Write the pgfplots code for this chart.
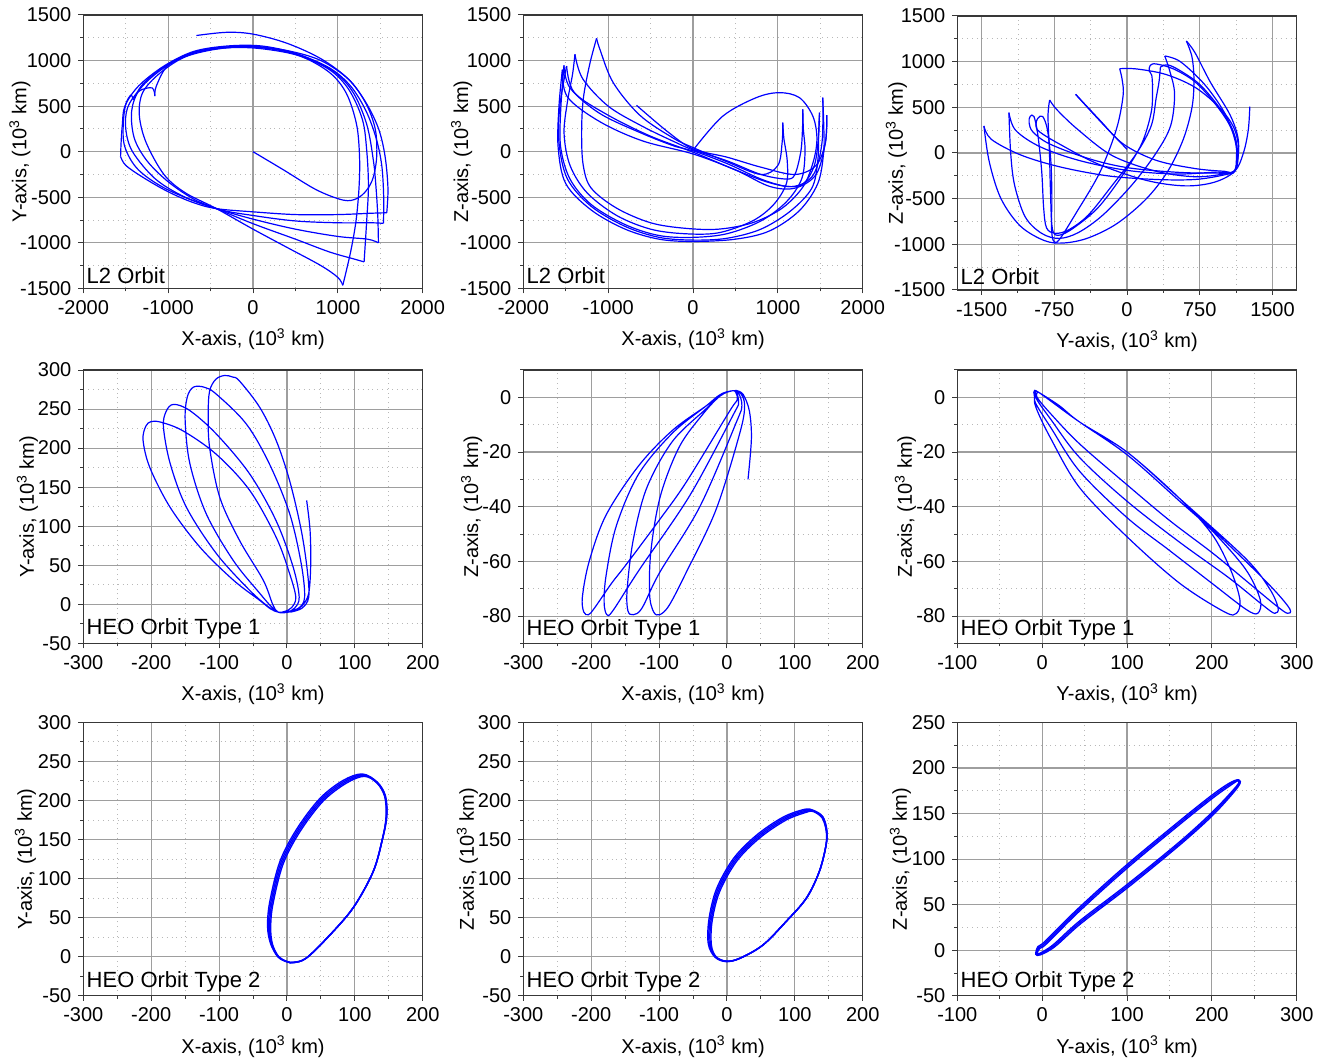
\documentclass[border=0pt]{standalone}
\usepackage{fontspec}
\setmainfont{Liberation Sans}
\usepackage{pgfplots}
\pgfplotsset{compat=1.18}

\tikzset{tag/.style={anchor=base west, inner sep=0pt, font=\fontsize{11}{13}\selectfont}}
\pgfplotsset{
  orb/.style={
    scale only axis, width=169.7pt, height=136.7pt, anchor=north west,
    axis line style={draw=black!78, line width=0.55pt},
    grid=both,
    major grid style={draw=black!38, line width=0.55pt},
    minor grid style={draw=black!28, line width=0.45pt, dotted},
    minor tick num=1,
    tick align=outside, tick pos=left,
    major tick length=2.5pt, minor tick length=1.5pt,
    tick style={draw=black!78, line width=0.5pt},
    tick label style={font=\fontsize{10}{12}\selectfont},
    every axis x label/.style={at={([yshift=-25.5pt]axis description cs:0.5,0)}, anchor=center, font=\fontsize{10}{12}\selectfont},
    /pgf/number format/assume math mode=true,
    /pgf/number format/1000 sep={},
    scaled ticks=false,
  },
  ylab/.style={every axis y label/.style={at={([xshift=-#1]axis description cs:0,0.5)}, rotate=90, anchor=center, font=\fontsize{10}{12}\selectfont}},
  trj/.style={blue, line width=0.6pt, smooth, tension=0.55, mark=none},
  band/.style={blue, line width=0.7pt, smooth cycle, tension=0.55, mark=none},
}

\begin{document}
\begin{tikzpicture}
\useasboundingbox (0,0) rectangle (664.5pt,-529.5pt);

% ---------- row 1: L2 orbit ----------
\begin{axis}[orb, ylab=31.7pt, at={(41.67pt,-7.5pt)},
  xmin=-2000, xmax=2000, ymin=-1500, ymax=1500,
  xtick distance=1000, ytick distance=500,
  xlabel={X-axis, (10\textsuperscript{3} km)}, ylabel={Y-axis, (10\textsuperscript{3} km)}]
\addplot[trj] coordinates {(0,0) (360,-200) (750,-420) (1066,-532) (1223,-514) (1341,-420) (1419,-275) (1458,-40) (1440,250) (1330,530) (1130,790) (800,1000) (400,1110) (0,1150) (-400,1130) (-800,1040) (-1100,860) (-1300,650) (-1340,400) (-1260,100) (-1050,-250) (-800,-450) (-430,-625) (0,-850) (400,-1050) (800,-1250) (1000,-1380) (1058,-1466)};
\addplot[trj] coordinates {(1058,-1466) (1150,-1100) (1215,-750) (1250,-380) (1255,-50) (1220,300) (1100,640) (900,870) (550,1050) (100,1130) (-300,1140) (-700,1080) (-1050,920) (-1330,690) (-1430,450) (-1400,150) (-1250,-100) (-1000,-330) (-700,-520) (-430,-625) (0,-790) (500,-960) (900,-1100) (1200,-1180) (1309,-1209)};
\addplot[trj] coordinates {(1309,-1209) (1340,-750) (1360,-380) (1341,0) (1290,350) (1130,680) (900,900) (500,1070) (100,1140) (-300,1150) (-700,1090) (-1000,950) (-1140,720) (-1157,610)};
\addplot[trj] coordinates {(-1157,610) (-1190,700) (-1350,660) (-1480,480) (-1500,250) (-1420,0) (-1150,-300) (-800,-500) (-430,-625) (0,-740) (500,-850) (1000,-930) (1350,-960) (1478,-1000)};
\addplot[trj] coordinates {(1478,-1000) (1470,-700) (1450,-400) (1419,-100) (1340,300) (1180,650) (950,880) (550,1060) (100,1150) (-300,1150) (-700,1090) (-1050,930) (-1300,740) (-1411,567)};
\addplot[trj] coordinates {(-1411,567) (-1440,620) (-1500,520) (-1530,300) (-1510,50) (-1350,-200) (-1000,-420) (-430,-625) (0,-700) (500,-760) (1000,-780) (1400,-780) (1537,-787)};
\addplot[trj] coordinates {(1537,-787) (1540,-500) (1517,-150) (1450,150) (1330,450) (1150,720) (900,920) (500,1080) (100,1160) (-300,1160) (-700,1100) (-1050,940) (-1350,720) (-1510,500) (-1540,300) (-1555,100) (-1561,-53)};
\addplot[trj] coordinates {(-1561,-53) (-1500,-150) (-1300,-280) (-1000,-440) (-700,-560) (-430,-625) (0,-660) (500,-690) (1000,-690) (1400,-675) (1576,-670)};
\addplot[trj] coordinates {(1576,-670) (1590,-400) (1556,-50) (1480,250) (1330,540) (1120,800) (800,1020) (400,1190) (0,1290) (-310,1310) (-667,1275)};
\node[tag] at ([xshift=1.5pt,yshift=2.5pt]rel axis cs:0,0) {L2 Orbit};
\end{axis}

\begin{axis}[orb, ylab=30.8pt, at={(261.67pt,-7.5pt)},
  xmin=-2000, xmax=2000, ymin=-1500, ymax=1500,
  xtick distance=1000, ytick distance=500,
  xlabel={X-axis, (10\textsuperscript{3} km)}, ylabel={Z-axis, (10\textsuperscript{3} km)}]
\addplot[trj] coordinates {(20,40) (353,392) (745,593) (1019,648) (1254,593) (1411,392) (1460,150) (1420,-100) (1300,-380) (1050,-620) (700,-780) (300,-850) (-100,-840) (-500,-780) (-900,-620) (-1200,-400) (-1294,-150) (-1313,200) (-1294,575) (-1220,950) (-1137,1244)};
\addplot[trj] coordinates {(-1137,1244) (-1098,1124) (-941,758) (-627,400) (-235,150) (0,45) (400,-110) (800,-250) (1000,-150) (1050,100) (1058,318)};
\addplot[trj] coordinates {(1058,318) (1070,150) (1110,-100) (1100,-350) (950,-580) (700,-760) (300,-890) (-100,-900) (-500,-850) (-900,-700) (-1250,-450) (-1450,-150) (-1520,200) (-1480,550) (-1420,850) (-1392,1069)};
\addplot[trj] coordinates {(-1392,1069) (-1300,800) (-1000,500) (-600,280) (-200,100) (0,20) (400,-100) (800,-250) (1100,-300) (1200,-250) (1270,0) (1290,250) (1294,465)};
\addplot[trj] coordinates {(1294,465) (1300,250) (1320,0) (1280,-300) (1100,-550) (800,-760) (400,-900) (0,-940) (-400,-920) (-800,-800) (-1200,-580) (-1450,-300) (-1560,50) (-1560,450) (-1521,948)};
\addplot[trj] coordinates {(-1521,948) (-1450,700) (-1100,420) (-600,200) (-200,55) (0,10) (400,-130) (800,-300) (1100,-380) (1300,-350) (1430,-150) (1478,150) (1490,428)};
\addplot[trj] coordinates {(1490,428) (1480,200) (1470,-100) (1400,-400) (1150,-650) (800,-850) (400,-950) (0,-970) (-400,-940) (-800,-820) (-1200,-600) (-1480,-300) (-1580,100) (-1570,500) (-1490,940)};
\addplot[trj] coordinates {(-1490,940) (-1400,650) (-1000,400) (-500,170) (0,-5) (500,-200) (900,-340) (1200,-380) (1420,-250) (1520,100) (1529,593)};
\addplot[trj] coordinates {(1529,593) (1540,300) (1540,0) (1470,-350) (1250,-650) (900,-870) (500,-960) (0,-985) (-400,-960) (-800,-850) (-1200,-640) (-1500,-350) (-1590,50) (-1580,500) (-1540,900)};
\addplot[trj] coordinates {(-1540,900) (-1480,600) (-1100,330) (-600,120) (0,-25) (500,-200) (900,-380) (1200,-400) (1450,-250) (1560,100) (1576,400)};
\addplot[trj] coordinates {(1576,400) (1560,100) (1450,-150) (1200,-250) (800,-170) (400,-60) (0,30) (-300,220) (-666,509)};
\node[tag] at ([xshift=1.5pt,yshift=2.5pt]rel axis cs:0,0) {L2 Orbit};
\end{axis}

\begin{axis}[orb, ylab=30.5pt, at={(478.67pt,-8pt)}, height=137pt,
  xmin=-1750, xmax=1750, ymin=-1500, ymax=1500,
  xtick distance=750, ytick distance=500,
  xlabel={Y-axis, (10\textsuperscript{3} km)}, ylabel={Z-axis, (10\textsuperscript{3} km)}]
\addplot[trj] coordinates {(0,40) (-270,340) (-530,642)};
\addplot[trj] coordinates {(-530,642) (-290,370) (-41,100) (300,-80) (700,-170) (1000,-200) (1111,-197) (1150,117) (1066,409) (860,774) (700,1100) (612,1226)};
\addplot[trj] coordinates {(612,1226) (670,1050) (690,800) (670,500) (580,150) (420,-200) (200,-500) (-100,-770) (-400,-930) (-650,-985) (-850,-960) (-1100,-800) (-1300,-500) (-1420,-100) (-1476,296)};
\addplot[trj] coordinates {(-1476,296) (-1400,150) (-1100,-20) (-700,-150) (-200,-250) (300,-290) (700,-290) (1000,-240) (1111,-190) (1128,-30) (1120,150) (1000,450) (800,750) (550,1000) (389,1062)};
\addplot[trj] coordinates {(389,1062) (440,900) (490,650) (450,300) (300,0) (50,-350) (-250,-680) (-500,-870) (-700,-935) (-880,-880) (-1050,-700) (-1160,-350) (-1200,0) (-1218,442)};
\addplot[trj] coordinates {(-1218,442) (-1150,250) (-900,70) (-500,-80) (0,-190) (500,-230) (900,-210) (1111,-197) (1140,0) (1090,250) (950,500) (750,750) (550,900) (420,965) (344,940)};
\addplot[trj] coordinates {(344,940) (330,780) (300,600) (250,300) (100,0) (-150,-350) (-400,-680) (-600,-840) (-740,-880) (-830,-820) (-860,-600) (-880,-200) (-920,200) (-960,400) (-1000,400) (-1010,330) (-970,230) (-800,100) (-400,-60) (0,-160) (500,-210) (900,-220) (1111,-197) (1128,50) (1060,300) (900,550) (700,780) (480,920) (300,975) (240,960) (228,900) (255,850) (262,700) (250,450) (150,100) (-50,-250) (-300,-600) (-550,-820) (-700,-900) (-770,-830) (-790,-400) (-800,0) (-815,400) (-798,580)};
\addplot[trj] coordinates {(-798,580) (-720,470) (-500,250) (-150,-30) (300,-200) (700,-260) (1000,-230) (1111,-197) (1150,50) (1100,280) (950,500) (700,720) (400,860) (100,920) (-76,923)};
\addplot[trj] coordinates {(-76,923) (-50,800) (-41,624) (-110,259) (-282,-215) (-523,-653) (-700,-950) (-760,-960) (-780,-800) (-775,-500) (-785,-100) (-820,250) (-870,400) (-920,380) (-940,300) (-900,230) (-700,100) (-300,-120) (200,-300) (600,-360) (900,-320) (1111,-200) (1200,0) (1250,250) (1266,507)};
\node[tag] at ([xshift=1.5pt,yshift=2.5pt]rel axis cs:0,0) {L2 Orbit};
\end{axis}

% ---------- row 2: HEO orbit type 1 ----------
\begin{axis}[orb, ylab=28pt, at={(41.67pt,-185pt)},
  xmin=-300, xmax=200, ymin=-50, ymax=300,
  xtick distance=100, ytick distance=50,
  xlabel={X-axis, (10\textsuperscript{3} km)}, ylabel={Y-axis, (10\textsuperscript{3} km)}]
\addplot[trj] coordinates {(29,133) (34,95) (35,52) (32,14) (22,-2) (8,-8) (-5,-10) (-13,-10) (-24,-6) (-40,5) (-79,31) (-128,73) (-172,124) (-202,175) (-212,210) (-208,228) (-200,234) (-185,233) (-153,222) (-104,192) (-55,146) (-16,86) (4,39) (13,9) (7,-4) (-3,-9) (-13,-10) (-26,-4) (-55,18) (-104,65) (-148,124) (-172,180) (-182,227) (-178,247) (-167,256) (-143,248) (-104,218) (-55,167) (-16,107) (9,48) (18,9) (11,-5) (0,-10) (-13,-10) (-23,-3) (-40,14) (-79,56) (-119,116) (-143,180) (-150,235) (-147,265) (-138,278) (-122,278) (-104,269) (-60,231) (-26,180) (4,116) (21,52) (26,9) (17,-5) (2,-10) (-13,-10) (-21,0) (-35,31) (-70,82) (-99,137) (-114,201) (-116,244) (-114,273) (-105,288) (-92,293) (-80,291) (-70,286) (-40,252) (-16,210) (4,158) (21,95) (30,43) (32,9) (22,-5) (5,-10)};
\node[tag] at ([xshift=1.5pt,yshift=4.2pt]rel axis cs:0,0) {HEO Orbit Type 1};
\end{axis}

\begin{axis}[orb, ylab=25.8pt, at={(261.67pt,-185pt)},
  xmin=-300, xmax=200, ymin=-90, ymax=10,
  xtick distance=100, ytick distance=20,
  xlabel={X-axis, (10\textsuperscript{3} km)}, ylabel={Z-axis, (10\textsuperscript{3} km)}]
\addplot[trj] coordinates {(31,-30) (36,-15) (33,-5) (24,1) (14,2.5) (8,2.4) (-10,1) (-30,-3) (-80,-12) (-130,-25) (-178,-43) (-203,-60) (-213,-73) (-211,-78.5) (-204,-79.5) (-195,-77) (-170,-68) (-148,-61) (-100,-45) (-60,-31) (4,-5) (15,-1) (13,1.8) (8,2.4) (-10,1) (-30,-3) (-80,-13) (-130,-28) (-163,-47) (-178,-65) (-181,-75) (-177,-79.5) (-168,-78) (-129,-63) (-55,-36) (9,-6.5) (17,-2) (14,1.8) (8,2.4) (-10,1) (-30,-4) (-80,-16) (-118,-33) (-138,-52) (-147,-70) (-146,-78) (-138,-79.5) (-125,-77) (-99,-64) (-40,-40) (14,-9) (22,-3) (17,1.5) (8,2.4) (-10,0.5) (-35,-6) (-70,-18) (-98,-36) (-112,-56) (-114,-72) (-108,-78.5) (-99,-79.5) (-85,-76) (-60,-64) (-16,-41) (19,-13) (26,-3) (20,1.5) (10,2.4)};
\node[tag] at ([xshift=1.5pt,yshift=4.2pt]rel axis cs:0,0) {HEO Orbit Type 1};
\end{axis}

\begin{axis}[orb, ylab=26pt, at={(478.67pt,-185pt)},
  xmin=-100, xmax=300, ymin=-90, ymax=10,
  xtick distance=100, ytick distance=20,
  xlabel={Y-axis, (10\textsuperscript{3} km)}, ylabel={Z-axis, (10\textsuperscript{3} km)}]
\addplot[trj] coordinates {(-5,2) (20,-3) (44,-9) (100,-20) (162,-37) (200,-50) (222,-63) (233,-74) (229,-79) (215,-78.5) (162,-68) (100,-51) (44,-33) (10,-15) (-7,-4) (-9,0) (-5,2) (44,-9) (100,-21) (162,-38) (201,-49) (240,-63) (257,-74) (254,-79) (240,-77.5) (200,-68) (150,-56) (100,-44) (44,-27) (10,-11) (-8,-2) (-8,1) (-5,2) (44,-9) (100,-20) (162,-37) (240,-59) (268,-70) (278,-77) (274,-79) (260,-76) (220,-66) (162,-53) (100,-38) (44,-22) (10,-8) (-6,-1) (-7,1) (-5,2) (44,-9) (100,-20) (162,-37) (240,-60) (275,-71) (292,-77.5) (289,-79) (275,-76) (240,-67) (201,-57) (150,-45) (100,-32) (44,-17) (10,-6) (-6,0) (-5,2)};
\node[tag] at ([xshift=1.5pt,yshift=4.2pt]rel axis cs:0,0) {HEO Orbit Type 1};
\end{axis}

% ---------- row 3: HEO orbit type 2 ----------
\begin{axis}[orb, ylab=29pt, at={(41.67pt,-361.2pt)},
  xmin=-300, xmax=200, ymin=-50, ymax=300,
  xtick distance=100, ytick distance=50,
  xlabel={X-axis, (10\textsuperscript{3} km)}, ylabel={Y-axis, (10\textsuperscript{3} km)}]
\addplot[band] coordinates {(114,231) (87,222) (53,199) (19,160) (-6,118) (-21,66) (-24,35) (-21,15) (-12,0) (0,-6) (10,-7) (28,-2) (58,23) (97,62) (127,109) (141,152) (146,180) (144,205) (133,222)};
\addplot[band] coordinates {(113,232) (85.5,223.2) (51.5,200.2) (17.5,161.2) (-7.5,119.2) (-22.5,67.2) (-25.5,36) (-22,15.5) (-12.5,0) (0,-6.2) (10,-7.2) (28,-2) (58,23) (97,62) (127,109) (141,152) (146.5,180) (144.5,205) (133,222.5)};
\addplot[band] coordinates {(112,233) (84,224.4) (50,201.4) (16,162.4) (-9,120.4) (-24,68.4) (-27,37) (-23,16) (-13,0) (0,-6.4) (10,-7.4) (28,-2) (58,23) (97,62) (127,109) (141,152) (147,180) (145,205.5) (133,223)};
\addplot[band] coordinates {(111,234) (82.5,225.6) (48.5,202.6) (14.5,163.6) (-10.5,121.6) (-25.5,69.6) (-28.5,38) (-24,16.5) (-13.5,0) (0,-6.6) (10,-7.6) (28,-2) (58,23) (97,62) (127,109) (141,152) (147,180) (145,206) (133,223.5)};
\node[tag] at ([xshift=1.5pt,yshift=4pt]rel axis cs:0,0) {HEO Orbit Type 2};
\end{axis}

\begin{axis}[orb, ylab=28pt, at={(261.67pt,-361.2pt)},
  xmin=-300, xmax=200, ymin=-50, ymax=300,
  xtick distance=100, ytick distance=50,
  xlabel={X-axis, (10\textsuperscript{3} km)}, ylabel={Z-axis, (10\textsuperscript{3} km)}]
\addplot[band] coordinates {(127,186) (117,185) (87,175) (48,152) (14,122) (-11,83) (-22,45) (-23,15) (-16,0) (-1,-5.6) (19,-2) (53,15) (87,45) (117,75) (136,109) (146,143) (146,162) (140,178)};
\addplot[band] coordinates {(127,186.5) (116,186.2) (85.5,176.2) (46.5,153.2) (12.5,123.2) (-12.5,84.2) (-23.5,46) (-24.5,15.5) (-16.5,-0.2) (-1,-5.8) (19,-2) (53,15) (87,45) (117,75) (136,109) (146,143) (146.5,162) (140.5,178.5)};
\addplot[band] coordinates {(127,187) (115,187.4) (84,177.4) (45,154.4) (11,124.4) (-14,85.4) (-25,47) (-26,16) (-17,-0.4) (-1,-6) (19,-2) (53,15) (87,45) (117,75) (136,109) (146,143) (147,162) (141,179)};
\addplot[band] coordinates {(127,187.5) (114,188.6) (82.5,178.6) (43.5,155.6) (9.5,125.6) (-15.5,86.6) (-26.5,48) (-27.5,16.5) (-17.5,-0.6) (-1,-6.2) (19,-2) (53,15) (87,45) (117,75) (136,109) (146,143) (147,162.5) (141,179.5)};
\node[tag] at ([xshift=1.5pt,yshift=4pt]rel axis cs:0,0) {HEO Orbit Type 2};
\end{axis}

\begin{axis}[orb, ylab=28.5pt, at={(478.67pt,-361.2pt)},
  xmin=-100, xmax=300, ymin=-50, ymax=250,
  xtick distance=100, ytick distance=50,
  xlabel={Y-axis, (10\textsuperscript{3} km)}, ylabel={Z-axis, (10\textsuperscript{3} km)}]
\addplot[band] coordinates {(-6,-4) (-3,2) (5,7) (44,43) (100,90) (162,138) (201,167) (222,181) (231,186) (229,180) (201,152) (162,119) (100,72) (44,32) (13,6) (-2,-3)};
\addplot[band] coordinates {(-7,-4) (-4,3) (4,8.2) (43,44.2) (99,91.2) (161,139.2) (200,168.2) (221,182) (231,186.5) (230,180) (202,151) (163,118) (101,70.8) (45,30.8) (14,5) (-2,-4)};
\addplot[band] coordinates {(-7.5,-4.5) (-5,4) (3,9.4) (42,45.4) (98,92.4) (160,140.4) (199,169.4) (220,183) (231.5,187) (231,179.5) (203,150) (164,117) (102,69.6) (46,29.6) (15,4) (-2,-5)};
\node[tag] at ([xshift=1.5pt,yshift=4pt]rel axis cs:0,0) {HEO Orbit Type 2};
\end{axis}

\end{tikzpicture}
\end{document}
